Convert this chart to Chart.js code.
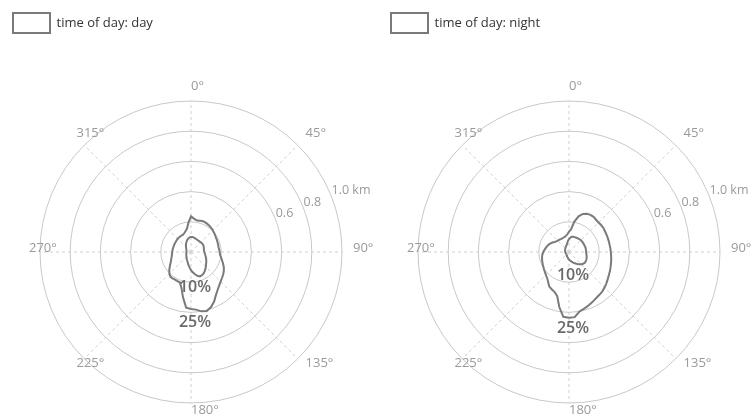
<!DOCTYPE html>
<html><head><meta charset="utf-8">
<script src="https://cdn.jsdelivr.net/npm/chart.js@4.4.1/dist/chart.umd.min.js"></script>
<style>
html,body{margin:0;padding:0;background:#fff;overflow:hidden}
#wrap{position:relative;width:751px;height:416px;overflow:hidden;background:#fff}
canvas{position:absolute;top:0}
#c1{left:0}
#c2{left:378px}
</style></head><body>
<div id="wrap">
<canvas id="c1" width="400" height="416"></canvas>
<canvas id="c2" width="382" height="416"></canvas>
</div>
<script>
// ---- data ----
const directionsDeg = [0,5,10,15,20,25,30,35,40,45,50,55,60,65,70,75,80,85,90,95,100,105,110,115,
  120,125,130,135,140,145,150,155,160,165,170,175,180,185,190,195,200,205,210,215,220,225,230,235,
  240,245,250,255,260,265,270,275,280,285,290,295,300,305,310,315,320,325,330,335,340,345,350,355];
const angleTickLabels = ['0°','45°','90°','135°','180°','225°','270°','315°'];
const distanceTicks = [0.6, 0.8, 1.0];
const distanceTickLabels = ['0.6', '0.8', '1.0 km'];
const seriesNames = ['time of day: day', 'time of day: night'];
const contourLevels = ['25%', '10%'];

// distance (km) of each contour at each direction
const dayContour25 = [
  0.236,0.222,0.213,0.215,0.218,0.218,0.215,0.212,0.208,0.204,0.199,0.195,
  0.191,0.189,0.187,0.186,0.185,0.187,0.190,0.193,0.202,0.213,0.226,0.240,
  0.251,0.260,0.268,0.277,0.290,0.307,0.330,0.362,0.388,0.404,0.399,0.383,
  0.377,0.370,0.305,0.245,0.215,0.213,0.212,0.213,0.213,0.202,0.188,0.172,
  0.158,0.147,0.140,0.133,0.129,0.126,0.124,0.123,0.122,0.121,0.121,0.121,
  0.121,0.122,0.123,0.124,0.125,0.125,0.126,0.126,0.132,0.142,0.156,0.195];
const dayContour10 = [
  0.100,0.100,0.098,0.095,0.093,0.091,0.090,0.090,0.090,0.091,0.092,0.093,
  0.093,0.092,0.090,0.088,0.087,0.087,0.088,0.091,0.095,0.100,0.105,0.111,
  0.117,0.123,0.130,0.139,0.148,0.157,0.165,0.170,0.172,0.163,0.150,0.135,
  0.120,0.104,0.090,0.078,0.068,0.061,0.055,0.050,0.046,0.043,0.040,0.038,
  0.036,0.034,0.033,0.032,0.031,0.030,0.030,0.030,0.030,0.031,0.032,0.034,
  0.036,0.039,0.042,0.047,0.052,0.058,0.065,0.072,0.080,0.086,0.092,0.097];
const nightContour25 = [
  0.135,0.150,0.205,0.245,0.268,0.280,0.284,0.284,0.279,0.276,0.278,0.278,
  0.275,0.274,0.273,0.273,0.273,0.275,0.277,0.280,0.284,0.288,0.293,0.299,
  0.305,0.313,0.323,0.333,0.342,0.348,0.355,0.366,0.377,0.388,0.400,0.433,
  0.435,0.431,0.370,0.302,0.281,0.272,0.263,0.241,0.225,0.216,0.208,0.202,
  0.196,0.192,0.188,0.185,0.181,0.177,0.170,0.163,0.156,0.150,0.143,0.135,
  0.125,0.116,0.110,0.106,0.104,0.102,0.101,0.101,0.102,0.105,0.110,0.118];
const nightContour10 = [
  0.085,0.095,0.102,0.104,0.105,0.106,0.107,0.108,0.110,0.111,0.111,0.111,
  0.111,0.111,0.112,0.113,0.113,0.113,0.113,0.115,0.118,0.121,0.124,0.126,
  0.127,0.126,0.122,0.115,0.106,0.097,0.088,0.080,0.073,0.066,0.060,0.055,
  0.050,0.046,0.041,0.037,0.034,0.031,0.029,0.027,0.025,0.024,0.023,0.023,
  0.023,0.023,0.023,0.023,0.024,0.024,0.025,0.025,0.026,0.027,0.028,0.029,
  0.030,0.031,0.033,0.034,0.036,0.038,0.041,0.044,0.048,0.053,0.062,0.075];

// ---- rendering ----
Chart.defaults.font.family = "'Open Sans', 'DejaVu Sans', sans-serif";
const FONT = "'Open Sans', 'DejaVu Sans', sans-serif";
const labelGray = '#9a9a9a';
const lineGray = '#7a7a7a';

const overlayPlugin = {
  id: 'overlay',
  afterDatasetsDraw(chart) {
    const s = chart.scales.r;
    const ctx = chart.ctx;
    ctx.save();
    ctx.fillStyle = labelGray;
    ctx.textAlign = 'left';
    ctx.textBaseline = 'alphabetic';
    ctx.font = '13px ' + FONT;
    const step = directionsDeg.length / angleTickLabels.length;
    angleTickLabels.forEach((t, k) => {
      const p = s.getPointPosition(k * step, s.drawingArea + 11);
      ctx.fillText(t, p.x, p.y);
    });
    ctx.font = '12.5px ' + FONT;
    const idx = 67.5 / 360 * directionsDeg.length;
    distanceTicks.forEach((v, k) => {
      const p = s.getPointPositionForValue(idx, v);
      ctx.fillText(distanceTickLabels[k], p.x + 1, p.y);
    });
    // contour level labels under each contour
    ctx.font = '600 16px ' + FONT;
    ctx.fillStyle = '#6a6a6a';
    ctx.textAlign = 'center';
    ctx.textBaseline = 'middle';
    chart.data.datasets.forEach((ds, i) => {
      const meta = chart.getDatasetMeta(i);
      let maxY = -Infinity;
      meta.data.forEach(pt => { if (pt.y > maxY) maxY = pt.y; });
      ctx.fillText(contourLevels[i], s.xCenter + 4, maxY + 11);
    });
    ctx.restore();
  }
};

function makeChart(id, name, outer, inner, padRight) {
  const mk = (data) => ({
    label: name,
    data: data,
    borderColor: lineGray,
    backgroundColor: '#ffffff',
    borderWidth: 2,
    fill: false,
    pointRadius: 0,
    pointHoverRadius: 0,
    pointHitRadius: 0,
    tension: 0
  });
  return new Chart(document.getElementById(id), {
    type: 'radar',
    data: { labels: directionsDeg, datasets: [mk(outer), mk(inner)] },
    options: {
      responsive: false,
      animation: false,
      layout: { padding: { left: 0, right: padRight, top: 0, bottom: 12 } },
      plugins: {
        legend: {
          display: true,
          position: 'top',
          align: 'start',
          weight: 1000,
          labels: {
            boxWidth: 37, boxHeight: 20, padding: 13,
            color: '#333', font: { size: 13 },
            filter: (item) => item.datasetIndex === 0
          }
        },
        title: {
          display: true, text: '', weight: 0,
          font: { size: 10, lineHeight: 1.2 },
          padding: { top: 46, bottom: 0 }
        },
        tooltip: { enabled: false }
      },
      scales: {
        r: {
          min: 0, max: 1,
          ticks: { stepSize: 0.2, display: false },
          grid: { circular: true, color: '#c8c8c8', lineWidth: 1 },
          angleLines: {
            color: '#cfcfcf',
            lineWidth: (c) => (c.index % (directionsDeg.length / angleTickLabels.length) === 0 ? 1 : 0),
            borderDash: [3, 3]
          },
          pointLabels: { display: false }
        }
      }
    },
    plugins: [overlayPlugin]
  });
}

makeChart('c1', seriesNames[0], dayContour25, dayContour10, 18);
makeChart('c2', seriesNames[1], nightContour25, nightContour10, 0);
</script>
</body></html>
